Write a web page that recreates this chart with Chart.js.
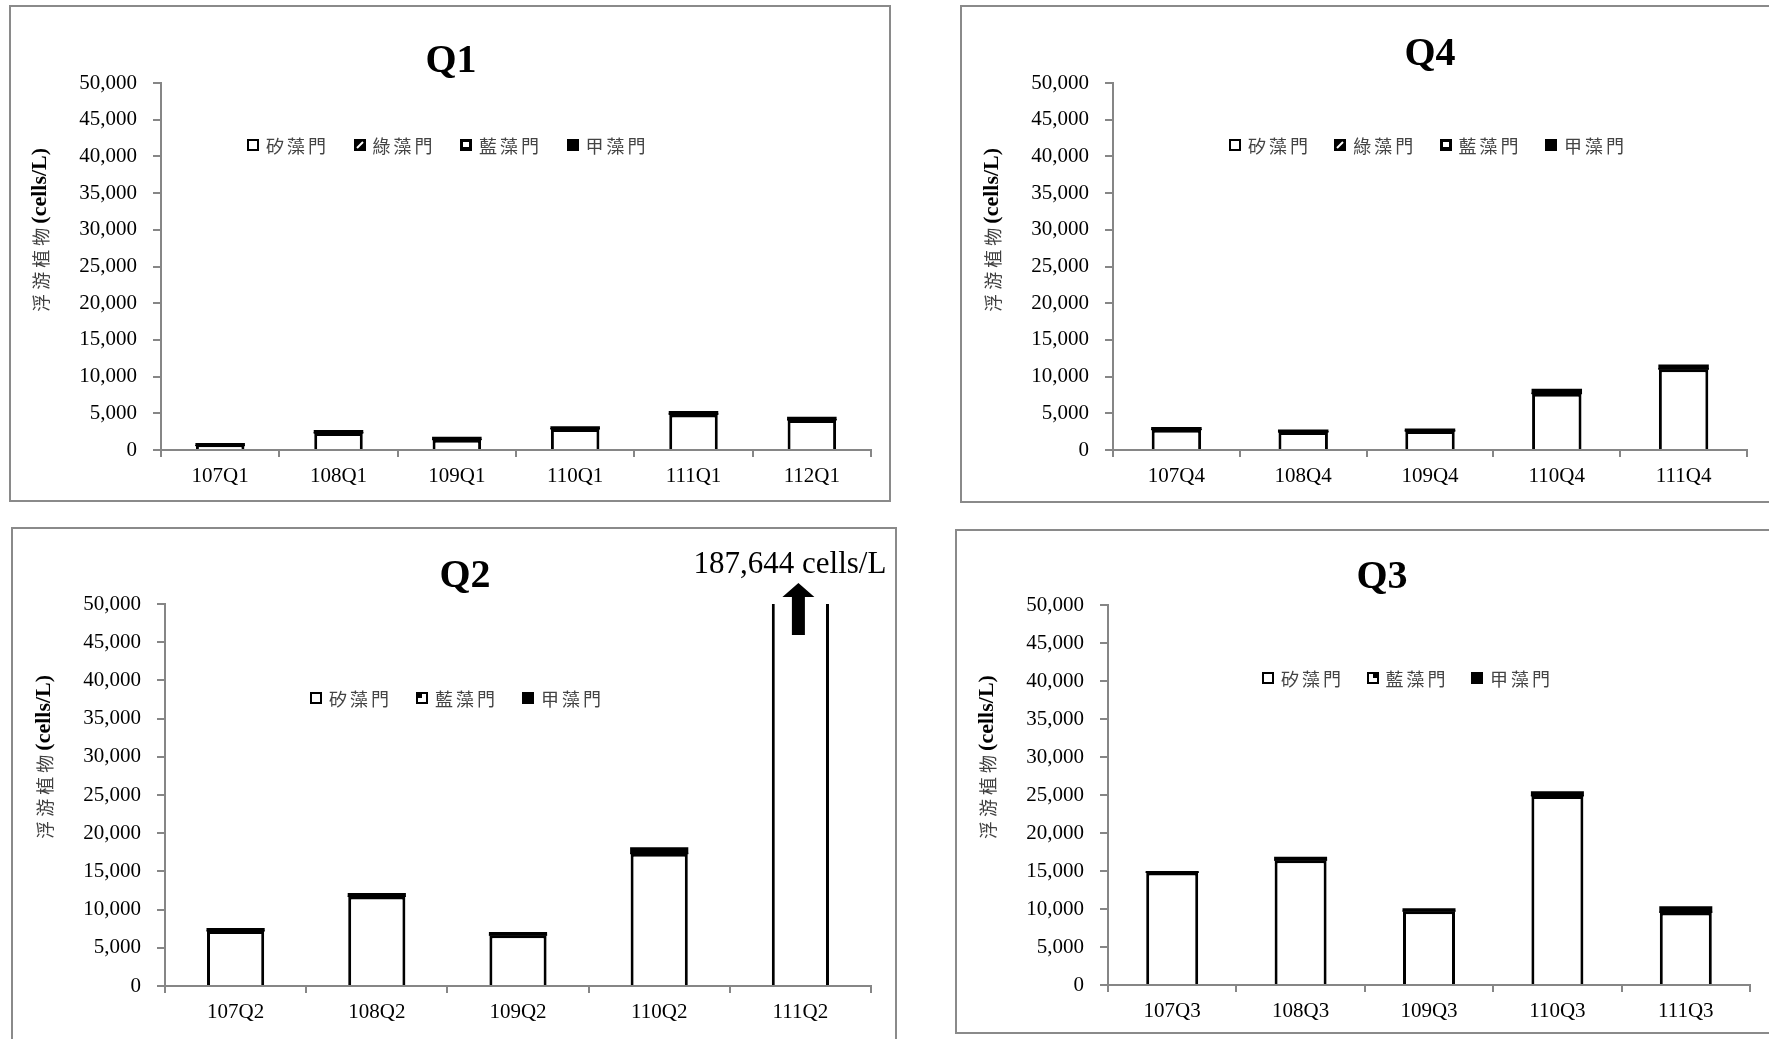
<!DOCTYPE html>
<html>
<head>
<meta charset="utf-8">
<title>浮游植物</title>
<script src="https://cdn.jsdelivr.net/npm/chart.js@4.4.1/dist/chart.umd.min.js"></script>
<style>
html, body { margin: 0; padding: 0; background: #fff; }
body { width: 1769px; height: 1039px; overflow: hidden; position: relative; }
.panel { position: absolute; border: 2px solid #8a8a8a; box-sizing: border-box; }
.chart { position: absolute; }
.legend { position: absolute; display: flex; align-items: center; height: 24px;
  font-family: "Noto Sans CJK TC"; font-size: 18px; color: #444; letter-spacing: 3px; white-space: nowrap; }
.legend .item { display: flex; align-items: center; }
.legend canvas { margin-right: 7px; }
</style>
</head>
<body>
<div class="panel" style="left:9px;top:5px;width:882px;height:497px;"></div>
<div class="panel" style="left:960px;top:5px;width:900px;height:498px;"></div>
<div class="panel" style="left:11px;top:527px;width:886px;height:600px;"></div>
<div class="panel" style="left:955px;top:529px;width:900px;height:505px;"></div>

<canvas id="q1" class="chart" width="880" height="494" style="left:11px;top:7px;"></canvas>
<canvas id="q4" class="chart" width="922" height="494" style="left:962px;top:7px;"></canvas>
<canvas id="q2" class="chart" width="904" height="510" style="left:13px;top:529px;"></canvas>
<canvas id="q3" class="chart" width="850" height="503" style="left:957px;top:531px;"></canvas>

<script>
// series names
var names4 = ["矽藻門", "綠藻門", "藍藻門", "甲藻門"];
var names3 = ["矽藻門", "藍藻門", "甲藻門"];

// y axis
var yMax = 50000;
var yStep = 5000;

// Q1
var q1Labels = ["107Q1", "108Q1", "109Q1", "110Q1", "111Q1", "112Q1"];
var q1Diatom = [580, 2300, 1400, 2850, 4850, 4080];
var q1Green  = [20, 30, 20, 30, 40, 30];
var q1Blue   = [30, 40, 30, 40, 50, 40];
var q1Dino   = [270, 270, 280, 260, 290, 300];

// Q4
var q4Labels = ["107Q4", "108Q4", "109Q4", "110Q4", "111Q4"];
var q4Diatom = [2750, 2450, 2580, 7650, 11000];
var q4Green  = [30, 20, 20, 40, 30];
var q4Blue   = [40, 30, 30, 60, 60];
var q4Dino   = [230, 230, 230, 520, 500];

// Q2
var q2Labels = ["107Q2", "108Q2", "109Q2", "110Q2", "111Q2"];
var q2Diatom = [7200, 11700, 6650, 17300, 186500];
var q2Blue   = [40, 50, 40, 80, 300];
var q2Dino   = [300, 350, 310, 700, 844];
var q2Note = "187,644 cells/L";

// Q3
var q3Labels = ["107Q3", "108Q3", "109Q3", "110Q3", "111Q3"];
var q3Diatom = [14790, 16400, 9700, 24860, 9550];
var q3Blue   = [40, 50, 40, 80, 50];
var q3Dino   = [120, 350, 300, 500, 700];

var axisGray = "#868686";
var tickFont = { family: "Liberation Serif", size: 21 };

// legend swatches
function swatch(kind, size) {
    var c = document.createElement("canvas");
    c.width = size; c.height = size;
    var g = c.getContext("2d");
    g.fillStyle = "#000";
    g.fillRect(0, 0, size, size);
    var h = size / 2;
    if (kind == "white") {
        g.fillStyle = "#fff"; g.fillRect(2, 2, size - 4, size - 4);
    } else if (kind == "hatch") {
        g.strokeStyle = "#fff"; g.lineWidth = 2;
        g.beginPath(); g.moveTo(3, size - 3); g.lineTo(size - 3, 3); g.stroke();
    } else if (kind == "blueA") {
        g.fillStyle = "#fff"; g.fillRect(3, 3, size - 6, size - 7);
    } else if (kind == "blueB") {
        g.fillStyle = "#fff"; g.fillRect(2, 2, size - 4, size - 4);
        g.fillStyle = "#000"; g.fillRect(2, 2, h - 2, h - 2);
    } else if (kind == "blueC") {
        g.fillStyle = "#fff"; g.fillRect(2, 2, size - 4, size - 4);
        g.fillStyle = "#000"; g.fillRect(h, 2, h - 2, h - 2);
    }
    return c;
}

// the thin upper segments print as solid black in the source
function series(label, values, kind) {
    var white = kind == "white";
    return {
        label: label,
        data: values,
        backgroundColor: white ? "#fff" : "#000",
        borderColor: "#000",
        borderWidth: white ? 3 : 0,
        inflateAmount: white ? 0 : 0.5,
        clip: 0
    };
}

// rotated y title, Chinese part plain, unit part bold
var yTitlePlugin = {
    id: "yTitle",
    afterDraw: function (chart) {
        var a = chart.chartArea, ctx = chart.ctx;
        var cn = "浮游植物", en = "(cells/L)";
        var cnFont = '18px "Noto Sans CJK TC"', enFont = 'bold 22px "Liberation Serif"';
        var cnStep = 22;
        ctx.save();
        ctx.font = enFont;
        var wEn = ctx.measureText(en).width;
        var wCn = cnStep * cn.length;
        ctx.translate(a.left - 121, a.top + 0.40 * (a.bottom - a.top));
        ctx.rotate(-Math.PI / 2);
        ctx.textAlign = "left"; ctx.textBaseline = "middle";
        var x0 = -(wCn + wEn) / 2;
        ctx.font = cnFont; ctx.fillStyle = "#404040";
        for (var i = 0; i < cn.length; i++) {
            ctx.fillText(cn[i], x0 + i * cnStep, 1);
        }
        ctx.font = enFont; ctx.fillStyle = "#000";
        ctx.fillText(en, x0 + wCn, 0);
        ctx.restore();
    }
};

// arrow + value for the bar that runs off the top
var overflowPlugin = {
    id: "overflowNote",
    afterDatasetsDraw: function (chart, args, opts) {
        if (!opts.text) return;
        var x = chart.scales.x.getPixelForValue(opts.index) - 2;
        var top = chart.chartArea.top;
        var ctx = chart.ctx;
        ctx.save();
        ctx.fillStyle = "#000";
        ctx.beginPath();
        ctx.moveTo(x, top - 21);
        ctx.lineTo(x + 16, top - 7);
        ctx.lineTo(x + 6.5, top - 7);
        ctx.lineTo(x + 6.5, top + 31);
        ctx.lineTo(x - 6.5, top + 31);
        ctx.lineTo(x - 6.5, top - 7);
        ctx.lineTo(x - 16, top - 7);
        ctx.closePath();
        ctx.fill();
        ctx.font = '31px "Liberation Serif"';
        ctx.textAlign = "right";
        ctx.textBaseline = "middle";
        ctx.fillText(opts.text, x + 88, top - 39);
        ctx.restore();
    }
};

function makeChart(id, p) {
    return new Chart(document.getElementById(id), {
        type: "bar",
        data: { labels: p.labels, datasets: p.datasets },
        plugins: [yTitlePlugin, overflowPlugin],
        options: {
            responsive: false,
            animation: false,
            events: [],
            layout: { padding: { left: p.padL, right: p.padR, top: 0, bottom: 0 } },
            datasets: { bar: { categoryPercentage: 1, barPercentage: p.barPct } },
            plugins: {
                legend: { display: false },
                tooltip: { enabled: false },
                title: {
                    display: true,
                    text: p.title,
                    color: "#000",
                    fullSize: p.titleFull,
                    font: { family: "Liberation Serif", size: 40, weight: "bold", lineHeight: 1 },
                    padding: { top: p.titleTop, bottom: p.titleBottom }
                },
                overflowNote: p.note || {}
            },
            scales: {
                x: {
                    stacked: true,
                    border: { color: axisGray, width: 2 },
                    grid: { drawOnChartArea: false, drawTicks: true, tickLength: 7, color: axisGray, lineWidth: 2, offset: true },
                    ticks: { font: tickFont, color: "#000", padding: 7, maxRotation: 0 },
                    afterFit: function (s) { s.height = p.xHeight; }
                },
                y: {
                    stacked: true,
                    min: 0,
                    max: yMax,
                    border: { color: axisGray, width: 2 },
                    grid: { drawOnChartArea: false, drawTicks: true, tickLength: 8, color: axisGray, lineWidth: 2 },
                    ticks: { stepSize: yStep, font: tickFont, color: "#000", padding: 16 },
                    afterFit: function (s) { s.width = p.yWidth; }
                }
            }
        }
    });
}

function htmlLegend(chart, kinds, left, cy, step) {
    var box = document.createElement("div");
    box.className = "legend";
    box.style.left = left + "px";
    box.style.top = (cy - 12) + "px";
    chart.data.datasets.forEach(function (ds, i) {
        var item = document.createElement("div");
        item.className = "item";
        item.style.width = step + "px";
        item.appendChild(swatch(kinds[i], 12));
        var t = document.createElement("span");
        t.textContent = ds.label;
        item.appendChild(t);
        box.appendChild(item);
    });
    document.body.appendChild(box);
}

var kinds4 = ["white", "hatch", "blueA", "black"];

var c1 = makeChart("q1", {
    title: "Q1", titleFull: true, labels: q1Labels, barPct: 0.41,
    datasets: [
        series(names4[0], q1Diatom, kinds4[0]),
        series(names4[1], q1Green, kinds4[1]),
        series(names4[2], q1Blue, kinds4[2]),
        series(names4[3], q1Dino, kinds4[3])
    ],
    padL: 20, padR: 20, yWidth: 130, xHeight: 51, titleTop: 35, titleBottom: 1
});
htmlLegend(c1, kinds4, 247, 145, 106.5);

var c4 = makeChart("q4", {
    title: "Q4", titleFull: false, labels: q4Labels, barPct: 0.39,
    datasets: [
        series(names4[0], q4Diatom, kinds4[0]),
        series(names4[1], q4Green, kinds4[1]),
        series(names4[2], q4Blue, kinds4[2]),
        series(names4[3], q4Dino, kinds4[3])
    ],
    padL: 0, padR: 137, yWidth: 151, xHeight: 51, titleTop: 28, titleBottom: 8
});
htmlLegend(c4, kinds4, 1229, 145, 105.3);

var kinds2 = ["white", "blueB", "black"];
var c2 = makeChart("q2", {
    title: "Q2", titleFull: true, labels: q2Labels, barPct: 0.405,
    datasets: [
        series(names3[0], q2Diatom, kinds2[0]),
        series(names3[1], q2Blue, kinds2[1]),
        series(names3[2], q2Dino, kinds2[2])
    ],
    padL: 46, padR: 46, yWidth: 106, xHeight: 53, titleTop: 28, titleBottom: 7,
    note: { text: q2Note, index: 4 }
});
htmlLegend(c2, kinds2, 310, 698, 106);

var kinds3 = ["white", "blueC", "black"];
var c3 = makeChart("q3", {
    title: "Q3", titleFull: true, labels: q3Labels, barPct: 0.405,
    datasets: [
        series(names3[0], q3Diatom, kinds3[0]),
        series(names3[1], q3Blue, kinds3[1]),
        series(names3[2], q3Dino, kinds3[2])
    ],
    padL: 57, padR: 57, yWidth: 94, xHeight: 49, titleTop: 27, titleBottom: 7
});
htmlLegend(c3, kinds3, 1262, 678, 104.5);
</script>
</body>
</html>
